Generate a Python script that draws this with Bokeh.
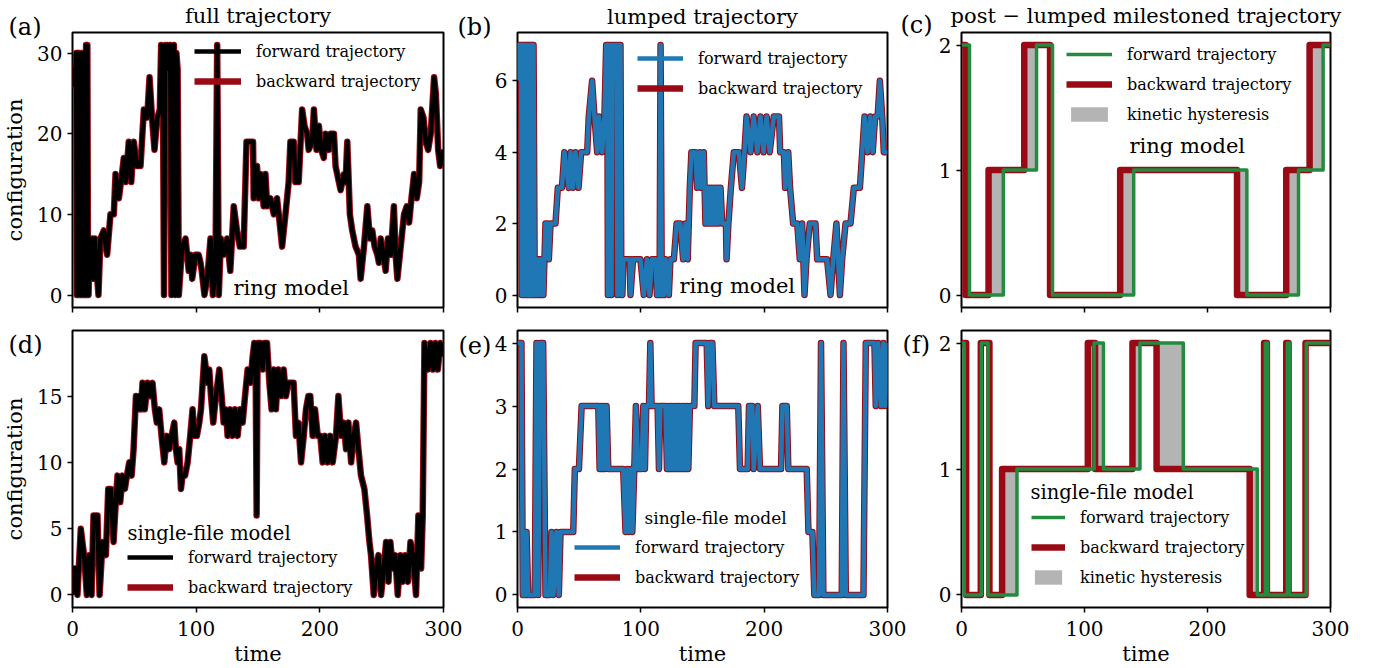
from bokeh.plotting import figure
from bokeh.models import Range1d, FixedTicker, Label, Legend, LegendItem, GridBox
from bokeh.embed import file_html
from bokeh.resources import INLINE

FONT = "DejaVu Serif"
BLACK = "#000000"
RED = "#990a14"
BLUE = "#1f77b4"
GREEN = "#238b3e"
GREY = "#b4b4b4"

# ---------------- data ----------------
# (a) ring model, full trajectory
a_t = [0, 1, 2, 3, 3.5, 4, 4.5, 5, 5.5, 6, 6.5, 7, 7.5, 8, 8.5, 9, 9.5, 10, 10.5, 11, 11.5, 12, 12.5, 13, 14, 15, 16, 17, 18, 19, 20, 21,
       22.6, 25.3, 28, 30.7, 33.4, 34.8, 37.5, 40, 41.5, 43, 45.5, 47.5, 49.6, 52, 55, 57.7, 60.4, 62.3, 64.3, 66.3, 68.6, 70.6, 71.7,
       73, 74, 75, 76, 77, 78, 79, 80, 81, 82, 83, 84, 85, 86, 88.6, 91.4, 94, 95.5, 96.8, 99.5, 102, 103.5, 104.5, 106.7, 109, 111.6,
       113.5, 115.6, 117, 118.3, 120, 122.2, 125, 127.6, 130.4, 133, 135.3, 138.4, 140.7, 146, 146.5, 149.2, 150.5, 152, 154.6, 156,
       157.4, 160, 162.8, 165.4, 166.8, 169.5, 172.2, 174.8, 176.2, 178.9, 180.2, 182.9, 185.7, 187.6, 189.7, 191, 193.8, 195.2, 197.3,
       199.2, 201.1, 203.2, 204.6, 207.3, 208.6, 211.4, 212.7, 215.4, 216.8, 219.5, 220.8, 222.2, 224.3, 226.2, 228.9, 231.6, 233,
       235.7, 238.4, 240.5, 242.4, 244.3, 246.5, 247.8, 249.2, 251.3, 253.2, 255.1, 257.3, 259.9, 261.3, 262.7, 265.4, 268.1, 270.3,
       272.2, 274.1, 276.2, 278.4, 280.3, 281.6, 283.8, 285.7, 287.6, 289.7, 292.4, 293.8, 295.7, 297.3, 300]
a_y = [26, 28, 26, 30, 0, 30, 0, 30, 2, 30, 0, 29, 0, 30, 3, 30, 0, 30, 0, 31, 0, 31, 3, 0, 7, 3, 7, 2, 7, 4, 2, 0,
       7, 8, 5, 10, 10, 15, 12, 15, 17, 14, 19, 14, 19, 16, 16, 23, 22, 27, 22, 18, 22, 23, 31,
       29, 0, 31, 28, 31, 30, 31, 0, 30, 31, 0, 30, 28, 0, 6, 7, 3, 5, 2, 5, 5, 4, 3, 0, 2, 7,
       0, 3, 31, 0, 7, 5, 7, 3, 11, 8, 6, 6, 19, 19, 12, 16, 12, 15, 11, 15,
       11, 12, 10, 12, 10, 6, 10, 14, 19, 19, 14, 14, 23, 21, 20, 18, 19, 23, 18,
       21, 18, 17, 20, 18, 20, 20, 16, 14, 13, 15, 14, 19, 10, 8, 6, 5, 2,
       6, 11, 7, 8, 6, 5, 4, 7, 5, 3, 7, 5, 11, 5, 2, 6, 10, 11,
       9, 12, 15, 12, 14, 23, 22, 19, 18, 20, 27, 25, 18, 16, 18]

# (b) ring model, lumped trajectory
b_t = [0, 1, 3, 3.5, 4, 4.5, 5, 5.5, 6, 6.5, 7, 7.5, 8, 8.5, 9, 9.5, 10, 10.5, 11, 11.5, 12, 12.5, 13, 14, 15, 16, 17, 18.5, 19.5, 21,
       22.7, 24, 25.4, 26.8, 30.8, 32.7, 36, 38, 41.6, 43, 45, 47, 49.5, 51.6, 56.5, 57.8, 60.5, 62.4, 64.6, 66, 68.6, 70.5, 71.9,
       72.8, 73.3, 74.3, 75.5, 76.2, 77, 80.5, 81, 81.8, 83.5, 84.2, 85, 86, 91, 91.6, 93.7, 99.7, 102.4, 105, 107, 109, 112, 113,
       115.2, 116, 117, 118.8, 120, 122.7, 124, 126.8, 129, 132, 134.3, 136.2, 138, 139.7, 141, 144.3, 145.6, 147.8, 148.9, 151,
       152.4, 153.5, 154.5, 155.5, 156.5, 157.5, 158.5, 159.5, 160.5, 161.5, 162.5, 163.5, 164.6, 166, 169, 169.5, 171, 173, 175.4,
       179.5, 182, 184, 185.7, 189, 191.5, 194.5, 197, 199.5, 202, 204.5, 207.8, 212, 213, 216, 217, 219.5, 221, 223.5, 226.8,
       228.9, 230.8, 232.7, 234.3, 237, 241.6, 243, 245.7, 251, 253.8, 256, 258.6, 261.4, 263.2, 266, 270, 272.7, 277.6, 279.5,
       281.4, 283.8, 286, 288, 290, 292, 293.8, 295.7, 297, 300]
b_y = [6, 7, 7, 0, 7, 0, 7, 0, 7, 0, 7, 0, 7, 0, 7, 0, 7, 0, 7, 0, 7, 0, 7, 0, 1, 0, 1, 0, 1, 0,
       2, 2, 1, 2, 2, 3, 3, 4, 3, 4, 3, 4, 3, 4, 4, 5, 6, 5, 4, 5, 4, 5, 7,
       7, 0, 7, 7, 0, 7, 7, 0, 7, 7, 0, 0, 1, 1, 0, 1, 1, 0, 1, 0, 1, 1, 0,
       0, 7, 0, 0, 1, 0, 1, 1, 2, 2, 1, 2, 1, 3, 4, 4, 3, 4, 3, 4,
       2, 3, 2, 3, 2, 3, 2, 3, 2, 3, 2, 3, 3, 2, 2, 1, 2, 3, 4,
       4, 3, 4, 5, 4, 5, 4, 5, 4, 5, 4, 5, 5, 4, 4, 3, 4, 3, 2, 2,
       1, 2, 0, 1, 2, 2, 1, 1, 1, 0, 1, 2, 0, 1, 2, 2, 3, 3, 4,
       5, 4, 5, 4, 5, 5, 6, 5, 4, 4]

# (c) ring model, post-lumped milestoned trajectory (change times and levels)
c_fw_t = [0, 6.5, 34, 61, 74, 140, 232, 274, 294]
c_fw_y = [2, 0, 1, 2, 0, 1, 0, 1, 2]
c_bw_t = [0, 3.3, 22, 51, 72, 129, 224, 264, 283]
c_bw_y = [2, 0, 1, 2, 0, 1, 0, 1, 2]

# (d) single-file model, full trajectory
d_t = [0, 0.8, 2.7, 4, 6.7, 8, 9.4, 11.6, 13.5, 15.4, 17, 20.2, 21, 21.9, 24.3, 27, 28.9, 31, 33.2, 35, 36.4, 38.6, 40.5, 42.4, 44,
       45.9, 47.8, 49.4, 51.3, 52.6, 54, 55.3, 56.6, 58.5, 60.7, 62.8, 64.7, 66.6, 68.2, 70.1, 72, 74.2, 76.3, 78.2, 80.1, 82.3,
       83.6, 85, 86.3, 87.7, 89, 91, 93.1, 95.2, 97.1, 98.5, 100.6, 102.5, 103.9, 106.6, 108, 109.3, 110.6, 112, 113.8, 116, 118.7,
       120.6, 122.2, 124.1, 125.4, 127.6, 129.5, 131.4, 133.5, 135.6, 137.6, 139.5, 141.6, 143.8, 145.7, 147, 148.1, 148.9, 149.7,
       151.9, 153.7, 155.1, 157.3, 159.2, 161, 162.6, 164.5, 166.4, 168.6, 170.8, 172.6, 174.5, 176.7, 178.8, 180.7, 182.6, 184.8,
       187, 188.8, 190.7, 192.3, 194.2, 196.1, 198.3, 200.4, 202.3, 204.2, 206.3, 208.5, 210.4, 213.1, 215, 217.2, 219.3, 221.2,
       223.1, 225.3, 227.4, 229.3, 231.2, 233.3, 236, 238.2, 240.1, 241.4, 243.6, 245.5, 247.4, 249.5, 251.7, 253.6, 255.5, 257,
       259, 260.9, 263, 265.2, 267.1, 269, 271.2, 273.3, 275.2, 277.8, 279.7, 281.9, 283.2, 284.6, 287.3, 289.5, 291.6, 293.5,
       295.4, 297.5, 300]
d_y = [0, 2, 2, 0, 5, 4, 3, 0, 3, 0, 6, 6, 3, 0, 4, 3, 8, 8, 4, 7, 9, 7, 9, 8, 9,
       10, 9, 11, 15, 14, 15, 14, 16, 14, 16, 15, 16, 14, 13, 14, 12, 10, 12, 11, 12, 13,
       11, 10, 11, 8, 9, 9, 10, 12, 14, 12, 12, 13, 14, 18, 17, 16, 17, 15, 13, 15, 17,
       15, 13, 14, 12, 14, 12, 14, 12, 14, 13, 15, 17, 16, 18, 19, 17, 6, 19,
       19, 17, 19, 19, 16, 14, 17, 14, 17, 15, 17, 15, 16, 16, 16, 12, 13, 10,
       12, 14, 15, 15, 12, 14, 12, 12, 10, 12, 10, 12, 10, 12, 15, 12, 13, 11,
       13, 10, 12, 13, 11, 9, 8, 6, 4, 3, 0, 2, 3, 0, 2, 4, 1, 4,
       2, 3, 0, 3, 1, 3, 1, 4, 3, 0, 6, 2, 6, 19, 17, 19, 17, 19,
       17, 19, 18]

# (e) single-file model, lumped trajectory
e_t = [0, 3.2, 4.3, 6.5, 7.3, 8.7, 14, 15.4, 16.8, 18.4, 20.8, 22.7, 26.2, 27.6, 29.2, 31.6, 33.5, 34.9, 45.2, 46.5, 49.8, 52,
       65.5, 66.6, 67.6, 68.7, 69.8, 70.9, 72.2, 73.6, 85.7, 87.6, 89.2, 90.3, 92, 93.1, 94.7, 96, 97.9, 100.6, 102, 103.3, 104.4,
       106.6, 107.7, 108.7, 113.6, 114.7, 115.8, 120, 121.2, 122.3, 123.4, 124.4, 125.5, 126.6, 127.7, 128.8, 129.8, 130.9, 132,
       133.1, 134.1, 135.2, 136.3, 137.4, 138.5, 139.8, 143.4, 144.4, 153.4, 154.7, 156, 158, 159.6, 179, 180.4, 186.6, 187.7,
       190.4, 191.5, 194.8, 196.6, 213.7, 214.8, 218.3, 219.6, 234.5, 235.9, 239.1, 240.7, 244.5, 246.1, 248, 262.9, 264.3, 266.2,
       280.5, 282.4, 289.4, 290.5, 292.5, 294.8, 296.7, 298, 300]
e_y = [4, 4, 0, 0, 1, 0, 0, 4, 0, 4, 4, 0, 0, 1, 0, 1, 0, 1, 1, 2, 2, 3,
       3, 2, 3, 2, 3, 2, 3, 2, 2, 1, 2, 1, 2, 1, 2, 3, 2, 2, 3, 2, 3,
       3, 4, 3, 3, 2, 3, 3, 2, 3, 2, 3, 2, 3, 2, 3, 2, 3, 2,
       3, 2, 3, 2, 3, 2, 3, 3, 4, 4, 3, 4, 4, 3, 3, 2, 2, 3,
       3, 2, 3, 2, 2, 3, 3, 2, 2, 1, 1, 0, 0, 4, 0, 0, 4, 0,
       0, 4, 4, 3, 4, 3, 4, 3, 4]

# (f) single-file model, post-lumped milestoned trajectory (change times and levels)
f_fw_t = [0, 2.2, 16.2, 21.6, 45.1, 107.8, 115.4, 145.1, 180.3, 240.5, 247, 249, 264.9, 266.5, 280.3]
f_fw_y = [2, 0, 2, 0, 1, 2, 1, 2, 1, 0, 2, 0, 2, 0, 2]
f_bw_t = [0, 3.8, 15.7, 22.7, 33, 102.7, 108.6, 139, 158.6, 234.3, 246, 248.3, 264, 265.9, 279.7]
f_bw_y = [2, 0, 2, 0, 1, 2, 1, 2, 1, 0, 2, 0, 2, 0, 2]

titles = ["full trajectory", "lumped trajectory", "post \u2212 lumped milestoned trajectory"]
panel_tags = ["(a)", "(b)", "(c)", "(d)", "(e)", "(f)"]

T_END = 300
W, H = 1373, 668


# ---------------- helpers ----------------
def step_path(ts, ys, tend=T_END):
    xs, yv = [], []
    for i in range(len(ts)):
        t1 = ts[i + 1] if i + 1 < len(ts) else tend
        xs += [ts[i], t1]
        yv += [ys[i], ys[i]]
    return xs, yv


def level_at(ts, ys, t):
    v = ys[0]
    for tt, yy in zip(ts, ys):
        if tt <= t:
            v = yy
    return v


def hysteresis(ft, fy, bt, by, tend=T_END):
    grid = sorted(set(ft + bt + [tend]))
    xs, y1, y2 = [], [], []
    for t0, t1 in zip(grid[:-1], grid[1:]):
        v1 = level_at(ft, fy, t0)
        v2 = level_at(bt, by, t0)
        xs += [t0, t1]
        y1 += [v1, v1]
        y2 += [v2, v2]
    return xs, y1, y2


def make_fig(width, height, left, right, top, bottom, yr, yticks, bottom_row, ylabel=None):
    p = figure(width=width, height=height, x_range=Range1d(0, 300), y_range=Range1d(*yr),
               output_backend="svg", toolbar_location=None,
               min_border_left=left, min_border_right=right, min_border_top=top, min_border_bottom=bottom)
    p.grid.visible = False
    p.outline_line_color = "black"
    p.outline_line_width = 2
    p.outline_line_alpha = 1
    p.background_fill_color = "white"
    p.border_fill_color = "white"
    for ax in (p.xaxis[0], p.yaxis[0]):
        ax.axis_line_color = None
        ax.major_tick_out = 5
        ax.major_tick_in = 0
        ax.minor_tick_out = 0
        ax.minor_tick_in = 0
        ax.major_tick_line_width = 1.5
        ax.major_tick_line_color = "black"
        ax.major_label_text_font = FONT
        ax.major_label_text_font_size = "20px"
        ax.major_label_text_color = "black"
        ax.axis_label_text_font = FONT
        ax.axis_label_text_font_size = "21px"
        ax.axis_label_text_font_style = "normal"
        ax.axis_label_text_color = "black"
        ax.major_label_standoff = 5
    p.xaxis.ticker = FixedTicker(ticks=[0, 100, 200, 300])
    p.yaxis.ticker = FixedTicker(ticks=yticks)
    if bottom_row:
        p.xaxis.axis_label = "time"
        p.xaxis.axis_label_standoff = 3
        p.xaxis.major_label_standoff = 8
    else:
        p.xaxis.major_label_overrides = {0: "", 100: "", 200: "", 300: ""}
        p.xaxis.major_label_text_font_size = "0px"
        p.xaxis.major_label_standoff = 0
    if ylabel:
        p.yaxis.axis_label = ylabel
        p.yaxis.axis_label_standoff = 7
    return p


def add_text(p, text, x, y, size, units="screen", align="left"):
    p.add_layout(Label(x=x, y=y, x_units=units, y_units=units, text=text,
                       text_font=FONT, text_font_size=size, text_align=align,
                       text_baseline="middle", text_color="black"))


def add_legend(p, items, loc, glyph_w):
    lg = Legend(items=items, location=loc, label_text_font=FONT, label_text_font_size="16px",
                label_text_color="black",
                glyph_width=glyph_w, glyph_height=18, label_height=20, label_standoff=15, spacing=10,
                padding=0, margin=0, border_line_color=None, background_fill_alpha=0)
    p.add_layout(lg)


def traj_panel(p, ts, ys, fcolor):
    rb = p.line(ts, ys, line_color=RED, line_width=6.5, line_join="round")
    rf = p.line(ts, ys, line_color=fcolor, line_width=4.5, line_join="round")
    return rf, rb


def milestone_panel(p, ft, fy, bt, by):
    hx, hy1, hy2 = hysteresis(ft, fy, bt, by)
    rh = p.varea(x=hx, y1=hy1, y2=hy2, fill_color=GREY)
    bx, byv = step_path(bt, by)
    fx, fyv = step_path(ft, fy)
    rb = p.line(bx, byv, line_color=RED, line_width=6.5, line_join="round")
    rf = p.line(fx, fyv, line_color=GREEN, line_width=3.5, line_join="round")
    return rf, rb, rh


# ---------------- top row ----------------
pa = make_fig(470, 318, 72, 27, 32, 11, (-1.55, 32.55), [0, 10, 20, 30], False, "configuration")
rf, rb = traj_panel(pa, a_t, a_y, BLACK)
add_legend(pa, [LegendItem(label="forward trajectory", renderers=[rf]),
                LegendItem(label="backward trajectory", renderers=[rb])], (122, 216), 47)
add_text(pa, "ring model", 161, 20, "21px")

pb = make_fig(444, 318, 47, 27, 32, 11, (-0.35, 7.35), [0, 2, 4, 6], False)
rf, rb = traj_panel(pb, b_t, b_y, BLUE)
add_legend(pb, [LegendItem(label="forward trajectory", renderers=[rf]),
                LegendItem(label="backward trajectory", renderers=[rb])], (120, 209), 46)
add_text(pb, "ring model", 162, 22, "21px")

pc = make_fig(459, 318, 47, 43, 32, 11, (-0.1, 2.1), [0, 1, 2], False)
rf, rb, rh = milestone_panel(pc, c_fw_t, c_fw_y, c_bw_t, c_bw_y)
add_legend(pc, [LegendItem(label="forward trajectory", renderers=[rf]),
                LegendItem(label="backward trajectory", renderers=[rb]),
                LegendItem(label="kinetic hysteresis", renderers=[rh])], (105, 183), 46)
add_text(pc, "ring model", 168, 162, "21px")

# ---------------- bottom row ----------------
pd = make_fig(470, 350, 72, 27, 12, 61, (-0.95, 19.95), [0, 5, 10, 15], True, "configuration")
rf, rb = traj_panel(pd, d_t, d_y, BLACK)
add_legend(pd, [LegendItem(label="forward trajectory", renderers=[rf]),
                LegendItem(label="backward trajectory", renderers=[rb])], (55, 10), 46)
add_text(pd, "single-file model", 55, 74, "19.5px")

pe = make_fig(444, 350, 47, 27, 12, 61, (-0.2, 4.2), [0, 1, 2, 3, 4], True)
rf, rb = traj_panel(pe, e_t, e_y, BLUE)
add_legend(pe, [LegendItem(label="forward trajectory", renderers=[rf]),
                LegendItem(label="backward trajectory", renderers=[rb])], (57, 20), 46)
add_text(pe, "single-file model", 127, 90, "17px")

pf = make_fig(459, 350, 47, 43, 12, 61, (-0.1, 2.1), [0, 1, 2], True)
rf, rb, rh = milestone_panel(pf, f_fw_t, f_fw_y, f_bw_t, f_bw_y)
add_legend(pf, [LegendItem(label="forward trajectory", renderers=[rf]),
                LegendItem(label="backward trajectory", renderers=[rb]),
                LegendItem(label="kinetic hysteresis", renderers=[rh])], (70, 20), 34)
add_text(pf, "single-file model", 69, 115, "19.5px")

# ---------------- transparent overlay for titles and panel tags ----------------
ov = figure(width=W, height=H, x_range=Range1d(0, W), y_range=Range1d(H, 0),
            x_axis_type=None, y_axis_type=None, output_backend="svg", toolbar_location=None,
            min_border=0, outline_line_color=None)
ov.grid.visible = False
ov.background_fill_color = None
ov.border_fill_color = None
ov.frame_align = False

title_pos = [(257.5, 15), (702, 16), (1145.5, 15)]
for txt, (x, y) in zip(titles, title_pos):
    add_text(ov, txt, x, y, "21px", units="data", align="center")

tag_pos = [(8, 26), (457, 26), (900, 24.5), (8, 344), (458, 345), (902, 344)]
for txt, (x, y) in zip(panel_tags, tag_pos):
    add_text(ov, txt, x, y, "24px", units="data")

grid = GridBox(children=[(pa, 0, 0), (pb, 0, 1), (pc, 0, 2),
                         (pd, 1, 0), (pe, 1, 1), (pf, 1, 2),
                         (ov, 0, 0, 2, 3)], spacing=0)

with open("out.html", "w") as fh:
    fh.write(file_html(grid, INLINE))
